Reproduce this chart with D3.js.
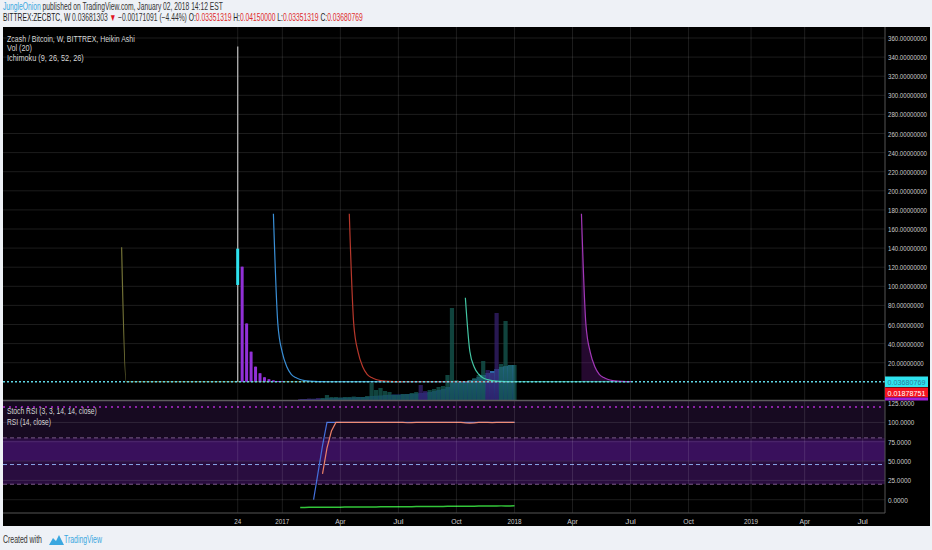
<!DOCTYPE html>
<html><head><meta charset="utf-8">
<script src="https://cdn.jsdelivr.net/npm/d3@7"></script>
<style>html,body{margin:0;padding:0;background:#eef1f6;}svg{display:block;font-family:"Liberation Sans",Arial,sans-serif;}</style>
</head><body><svg id="c" width="932" height="550"></svg>
<script>
// ================= DATA =================
const xTickDates  = ["2016-10-24","2017-01-02","2017-04-03","2017-07-03","2017-10-02","2018-01-01","2018-04-02","2018-07-02","2018-10-01","2019-01-07","2019-04-01","2019-07-01"];
const xTickLabels = ["24","2017","Apr","Jul","Oct","2018","Apr","Jul","Oct","2019","Apr","Jul"];
const priceTicks  = [20,40,60,80,100,120,140,160,180,200,220,240,260,280,300,320,340,360];
const oscTicks    = [0,25,50,75,100,125];

// Heikin Ashi weekly candles (start week 2016-10-24)
const haStart = "2016-10-24";
const haOpen  = [101.4, 120.5, 61.0, 31.5, 15.8, 8.9, 4.7, 2.6, 1.4, 0.8, 0.45];
const haClose = [139.4, 0.05, 0.05, 0.05, 0.05, 0.05, 0.05, 0.05, 0.05, 0.05, 0.05];
const haHigh  = [351.0, 120.5, 61.0, 31.5, 15.8, 8.9, 4.7, 2.6, 1.4, 0.8, 0.45];
const haLow   = [0.03, 0.03, 0.03, 0.03, 0.03, 0.03, 0.03, 0.03, 0.03, 0.03, 0.03];

// Ichimoku (9, 26, 52, 26) visible segments
const laggingStart = "2016-04-25", laggingEnd = "2017-07-10";
const lagging = [140.8, 0.05, 0.05, 0.04];
const tenkanStart = "2016-12-19", tenkanEnd = "2018-01-01";
const tenkan = [176, 60.3, 30.5, 15.8, 7.9, 4.4, 2.4, 1.3, 0.7, 0.4, 0.2, 0.1, 0.06, 0.05];
const kijunStart = "2017-04-17", kijunEnd = "2018-01-01";
const kijun  = [176, 60.3, 30.5, 15.8, 7.9, 4.4, 2.4, 1.3, 0.7, 0.4, 0.2, 0.1, 0.06, 0.05];
const spanAStart = "2017-10-16", spanAEnd = "2018-07-02";
const spanA  = [88, 32, 15.3, 7.9, 4.0, 2.2, 1.2, 0.65, 0.35, 0.2, 0.1, 0.06, 0.05];
const spanBStart = "2018-04-16", spanBEnd = "2018-07-02";
const spanB  = [176, 60.3, 30.5, 15.8, 7.9, 4.4, 2.4, 1.3, 0.7, 0.4, 0.2, 0.1];
const tailValue = 0.04;

// Volume (start week 2017-01-30)
const volStart = "2017-01-30";
const volume = [1,1,1.5,1,2,2,5,3,3,2.5,3,3,3.5,3,3,4,17,10,12,9,8,5,5,6,6,7,8,15,9,10,11,13,14,25,92,20,18,17,20,22,25,39,30,27,87,36,79,35,35];
const volDir = "ddddduuuuuuuuuuuuuuuuuuuuuudduuuuuuuuuuuuuddduuuu";
const volMA  = [1,1,1,1.2,1.3,1.5,2,2,2.2,2.3,2.5,2.6,2.8,3,3.1,3.3,4,4.3,4.6,5,5.2,5.4,5.6,5.8,6,6.3,6.6,7,7.5,8,9,10,11,13,17,17.5,18,18.5,20,21,23,25,27,29,31,33,34,35,35];

// Stoch RSI (3,3,14,14) and RSI (14)
const stochKStart = "2017-02-20";
const stochK = [0,35,70,100,100,100,100,100,100,100,100,100,100,100,100,100,100,100,100,100,100,100,100,100,100,100,100,100,100,100,100,100,100,100,100,100,100,100,100,100,100,100,100,100,100,100];
const stochDStart = "2017-03-06";
const stochD = [33.3,66.7,88.9,100,100,100,100,100,100,100,100,100,100,100,100,100,100,100,100,99.6,99.8,100,100,100,100,100,100,100,100,100,100,100,99.4,99.2,99.4,100,100,100,99.7,100,100,100,100,100];
const rsiStart = "2017-01-30";
const rsi = [1.2,1.2,1.3,1.3,1.3,1.4,1.4,1.5,1.5,1.5,1.6,1.6,1.6,1.7,1.7,1.8,1.8,1.8,1.9,1.9,1.9,2.0,2.0,2.1,2.1,2.1,2.2,2.2,2.2,2.3,2.3,2.3,2.4,2.5,2.6,2.6,2.6,2.7,2.7,2.7,2.8,2.8,2.8,2.9,2.9,3.0,3.0,3.0,3.1];
const oscBands = {outerTop:120, upper:80, lower:20, mid:45.5, rsiUpper:76.5, rsiLower:50.5};

const lastPrice = 0.03680769;
const headerLine1 = ["JungleOnion", " published on TradingView.com, January 02, 2018 14:12 EST"];
const symbolLine = ["BITTREX:ZECBTC, W ", "0.03681303 ", "\u25BC ", "\u22120.00171091 (\u22124.44%) ", "O:", "0.03351319 ", "H:", "0.04150000 ", "L:", "0.03351319 ", "C:", "0.03680769"];
const mainLegend = ["Zcash / Bitcoin, W, BITTREX, Heikin Ashi", "Vol (20)", "Ichimoku (9, 26, 52, 26)"];
const oscLegend = ["Stoch RSI (3, 3, 14, 14, close)", "RSI (14, close)"];
const axisBadges = ["0.03680769", "0.01878751"];

// ================= DRAW =================
const P = d3.utcParse("%Y-%m-%d");
const wk = (s, i) => d3.utcDay.offset(P(s), 7 * i);
const svg = d3.select("#c");
const L = 3, R = 885, T = 27, MB = 400, OB = 513;

const x = d3.scaleUtc().domain([P("2015-10-22"), P("2019-08-05")]).range([L, R]);
const y = d3.scaleLinear().domain([0, 360]).range([381.8, 38]);
const yVol = d3.scaleLinear().domain([0, 100]).range([MB, MB - 100]);
const yO = d3.scaleLinear().domain([0, 125]).range([499.7, 403.1]);
const yR = d3.scaleLinear().domain([0, 100]).range([508.5, 421]);

svg.append("rect").attr("width", 932).attr("height", 550).attr("fill", "#eef1f6");
svg.append("rect").attr("x", L).attr("y", T).attr("width", 927).attr("height", 499).attr("fill", "#000");

const defs = svg.append("defs");
defs.append("clipPath").attr("id", "cm").append("rect").attr("x", L).attr("y", T).attr("width", R - L).attr("height", MB - T);
defs.append("clipPath").attr("id", "co").append("rect").attr("x", L).attr("y", MB + 1).attr("width", R - L).attr("height", OB - MB - 1);
const g1 = defs.append("linearGradient").attr("id", "vg").attr("x1", 0).attr("x2", 0).attr("y1", 0).attr("y2", 1);
g1.append("stop").attr("offset", "0%").attr("stop-color", "#3a88d0");
g1.append("stop").attr("offset", "100%").attr("stop-color", "#1a3a84");

// lower pane bands
const og = svg.append("g").attr("clip-path", "url(#co)");
og.append("rect").attr("x", L).attr("width", R - L).attr("y", MB + 1).attr("height", yO(oscBands.upper) - MB - 1).attr("fill", "#170a21");
og.append("rect").attr("x", L).attr("width", R - L).attr("y", yO(oscBands.upper)).attr("height", yO(oscBands.lower) - yO(oscBands.upper)).attr("fill", "#290d3f");
og.append("rect").attr("x", L).attr("width", R - L).attr("y", yO(oscBands.rsiUpper)).attr("height", yO(oscBands.rsiLower) - yO(oscBands.rsiUpper)).attr("fill", "#39105c");

// grid
const grid = svg.append("g").attr("stroke", "#ffffff").attr("stroke-opacity", 0.11).attr("stroke-width", 1);
xTickDates.forEach(d => grid.append("line").attr("x1", x(P(d))).attr("x2", x(P(d))).attr("y1", T).attr("y2", OB));
priceTicks.forEach(v => grid.append("line").attr("x1", L).attr("x2", R).attr("y1", y(v)).attr("y2", y(v)));
oscTicks.filter(v => v < 125).forEach(v => grid.append("line").attr("x1", L).attr("x2", R).attr("y1", yO(v)).attr("y2", yO(v)));

// band lines
og.append("line").attr("x1", L).attr("x2", R).attr("y1", yO(oscBands.outerTop)).attr("y2", yO(oscBands.outerTop)).attr("stroke", "#b02ad0").attr("stroke-width", 1.5).attr("stroke-dasharray", "2,4");
[oscBands.upper, oscBands.lower].forEach(v => og.append("line").attr("x1", L).attr("x2", R).attr("y1", yO(v)).attr("y2", yO(v)).attr("stroke", "#7a5a88").attr("stroke-dasharray", "4,3"));
og.append("line").attr("x1", L).attr("x2", R).attr("y1", yO(oscBands.mid)).attr("y2", yO(oscBands.mid)).attr("stroke", "#8aa6e8").attr("stroke-dasharray", "4,3");

// main pane content
const mg = svg.append("g").attr("clip-path", "url(#cm)");
mg.append("path").datum(volMA).attr("fill", "url(#vg)").attr("fill-opacity", 0.85)
  .attr("d", d3.area().curve(d3.curveStep).x((d, i) => x(wk(volStart, i))).y0(yVol(0)).y1(d => yVol(d)));
const bw = 4.2;
mg.selectAll(".vb").data(volume).join("rect")
  .attr("x", (d, i) => x(wk(volStart, i)) - bw / 2).attr("width", bw)
  .attr("y", d => yVol(d)).attr("height", d => yVol(0) - yVol(d))
  .attr("fill", (d, i) => volDir[i] === "u" ? "#165a52" : "#36206e").attr("fill-opacity", 0.75);

function series(start, vals, end) {
  const pts = vals.map((v, i) => [wk(start, i), v]);
  if (end) pts.push([P(end), tailValue]);
  return pts;
}
const ln = d3.line().curve(d3.curveMonotoneX).x(d => x(d[0])).y(d => y(d[1]));
const spanBpts = series(spanBStart, spanB, spanBEnd);
mg.append("path").datum(spanBpts).attr("fill", "#6a1a88").attr("fill-opacity", 0.35)
  .attr("d", d3.area().curve(d3.curveMonotoneX).x(d => x(d[0])).y0(y(tailValue)).y1(d => y(d[1])));
[[laggingStart, lagging, laggingEnd, "#737236"], [tenkanStart, tenkan, tenkanEnd, "#3a8fd6"], [kijunStart, kijun, kijunEnd, "#b8382c"],
 [spanAStart, spanA, spanAEnd, "#43c6a4"], [spanBStart, spanB, spanBEnd, "#a338b8"]].forEach(([s, v, e, c]) => {
  mg.append("path").datum(series(s, v, e)).attr("fill", "none").attr("stroke", c).attr("stroke-width", 1.2).attr("d", ln);
});

const cw = 3;
haOpen.forEach((o, i) => {
  const cx = x(wk(haStart, i)), c = haClose[i], up = c >= o;
  const col = up ? "#2ee3ef" : "#9130d6";
  mg.append("line").attr("x1", cx).attr("x2", cx).attr("y1", y(haHigh[i])).attr("y2", y(haLow[i]))
    .attr("stroke", up ? "#a8a8a8" : col).attr("stroke-width", 1.4);
  mg.append("rect").attr("x", cx - cw / 2).attr("width", cw).attr("y", y(Math.max(o, c))).attr("height", Math.max(0.5, Math.abs(y(o) - y(c)))).attr("fill", col);
});

mg.append("line").attr("x1", L).attr("x2", R).attr("y1", y(lastPrice)).attr("y2", y(lastPrice))
  .attr("stroke", "#5fd6e4").attr("stroke-width", 1.5).attr("stroke-dasharray", "2,2");

const lo = d3.line().x(d => x(d[0])).y(d => yO(d[1]));
og.append("path").datum(stochK.map((v, i) => [wk(stochKStart, i), v])).attr("fill", "none").attr("stroke", "#4470dc").attr("stroke-width", 1.2).attr("d", lo);
og.append("path").datum(stochD.map((v, i) => [wk(stochDStart, i), v])).attr("fill", "none").attr("stroke", "#ec8068").attr("stroke-width", 1.2).attr("d", lo);
og.append("path").datum(rsi.map((v, i) => [wk(rsiStart, i), v])).attr("fill", "none").attr("stroke", "#33c63a").attr("stroke-width", 1.5)
  .attr("d", d3.line().x(d => x(d[0])).y(d => yR(d[1])));

svg.append("line").attr("x1", L).attr("x2", R).attr("y1", MB + 0.5).attr("y2", MB + 0.5).attr("stroke", "#5c5c5c").attr("stroke-width", 1.5);
svg.append("line").attr("x1", L).attr("x2", R).attr("y1", OB).attr("y2", OB).attr("stroke", "#555");
svg.append("line").attr("x1", R).attr("x2", R).attr("y1", T).attr("y2", OB).attr("stroke", "#555");

// text helper: draws text and squeezes it horizontally to a target width
function txt(xp, yp, parts, o = {}) {
  const t = svg.append("text").attr("x", 0).attr("y", 0)
    .attr("font-size", o.size || 8).attr("fill", o.fill || "#cfcfcf");
  if (o.anchor) t.attr("text-anchor", o.anchor);
  if (o.weight) t.attr("font-weight", o.weight);
  (Array.isArray(parts) ? parts : [[parts, null]]).forEach(([s, c]) => {
    const ts = t.append("tspan").text(s);
    if (c) ts.attr("fill", c);
  });
  const n = t.node().getComputedTextLength();
  const sx = o.w ? o.w / n : 1;
  t.attr("transform", `translate(${xp},${yp}) scale(${sx},1)`);
  return t;
}

priceTicks.forEach(v => { const s = d3.format(".8f")(v); txt(888, y(v) + 3, s, {w: s.length * 3.25, fill: "#cccccc"}); });
oscTicks.forEach(v => { const s = d3.format(".4f")(v); txt(888, yO(v) + 3, s, {w: s.length * 3.3, fill: "#cccccc"}); });
xTickDates.forEach((d, i) => txt(x(P(d)), 524, xTickLabels[i], {w: xTickLabels[i].length * 3.5, anchor: "middle", fill: "#cccccc"}));

svg.append("rect").attr("x", R).attr("y", 376.5).attr("width", 43).attr("height", 10.5).attr("fill", "#2fe4f0");
txt(887.5, 384.8, axisBadges[0], {w: 38, fill: "#2a7a9a"});
svg.append("rect").attr("x", R).attr("y", 387.5).attr("width", 43).attr("height", 10).attr("fill", "#f5141e");
txt(887.5, 395.5, axisBadges[1], {w: 38, fill: "#ffffff"});
svg.append("rect").attr("x", R).attr("y", 397.5).attr("width", 43).attr("height", 3).attr("fill", "#a020d8");

mainLegend.forEach((s, i) => txt(7, 41.5 + i * 9.8, s, {w: [128, 25, 77][i], size: 9, fill: "#d6d6d6"}));
oscLegend.forEach((s, i) => txt(7, 414 + i * 11.2, s, {w: [90, 44][i], size: 9, fill: "#d6d6d6"}));

// header
txt(3, 10, [[headerLine1[0], "#3aa7e0"], [headerLine1[1], "#333"]], {w: 220, size: 10});
const segC = ["#222", "#333", "#e0141e", "#333", "#222", "#e02a2a", "#222", "#e02a2a", "#222", "#e02a2a", "#222", "#e02a2a"];
txt(3, 20.5, symbolLine.map((s, i) => [s, segC[i]]), {w: 360, size: 10});

// footer
txt(3, 543, "Created with", {w: 39, size: 10, fill: "#333"});
svg.append("path").attr("d", "M49,545 L53,538 L56,541 L59,535 L64,545 Z").attr("fill", "#3aa7e0");
txt(64, 543, "TradingView", {w: 38, size: 10, fill: "#3aa7e0"});
</script></body></html>
